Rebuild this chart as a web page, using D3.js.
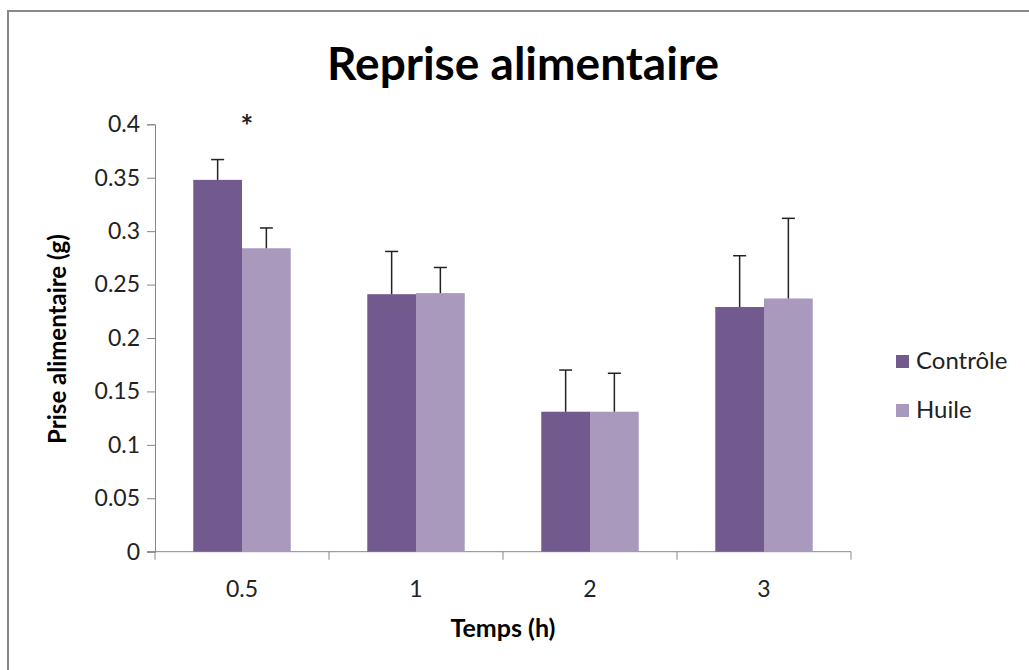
<!DOCTYPE html>
<html><head><meta charset="utf-8">
<script src="https://cdn.jsdelivr.net/npm/d3@7"></script>
<style>body{margin:0;background:#fff}svg{display:block}</style>
</head><body>
<script>
const categories = ["0.5", "1", "2", "3"];
const seriesNames = ["Contrôle", "Huile"];
const controle = [0.348, 0.241, 0.131, 0.229];
const huile = [0.284, 0.242, 0.131, 0.237];
const controleErr = [0.019, 0.040, 0.039, 0.048];
const huileErr = [0.019, 0.024, 0.036, 0.075];
const yTicks = [0, 0.05, 0.1, 0.15, 0.2, 0.25, 0.3, 0.35, 0.4];
const colors = ["#725A8F", "#A99ABD"];

(function () {
const W = 1029, H = 670;
const svg = d3.select("body").append("svg").attr("width", W).attr("height", H);
const font = "Lato, 'Open Sans', sans-serif";

svg.append("rect").attr("x", 8).attr("y", 11).attr("width", W + 10).attr("height", H + 10)
  .attr("fill", "#fff").attr("stroke", "#888").attr("stroke-width", 2);

const pl = 155, pr = 851, pt = 124.3, pb = 551.7;
const x = d3.scaleBand().domain(categories).range([pl, pr]).paddingInner(0.44).paddingOuter(0.22);
const xs = d3.scaleBand().domain(seriesNames).range([0, x.bandwidth()]);
const y = d3.scaleLinear().domain([0, 0.4]).range([pb, pt]);

// y axis
const yAxis = d3.axisLeft(y).tickValues(yTicks).tickSize(8).tickPadding(7).tickFormat(d => String(d));
const gy = svg.append("g").attr("transform", `translate(${pl},0)`).call(yAxis);
gy.select(".domain").attr("stroke", "#888").attr("stroke-width", 1);
gy.selectAll(".tick line").attr("stroke", "#888");
gy.selectAll(".tick text").attr("font-family", font).attr("font-size", 23).attr("fill", "#222");

// x axis
const xEdge = d3.scaleLinear().domain([0, categories.length]).range([pl, pr]);
const gx = svg.append("g");
gx.append("line").attr("x1", pl - 8).attr("x2", pr).attr("y1", pb).attr("y2", pb)
  .attr("stroke", "#888");
d3.range(categories.length + 1).forEach(i => {
  gx.append("line").attr("x1", xEdge(i)).attr("x2", xEdge(i)).attr("y1", pb).attr("y2", pb + 8)
    .attr("stroke", "#888");
});
gx.selectAll("text.xl").data(categories).join("text").attr("class", "xl")
  .attr("x", d => x(d) + x.bandwidth() / 2).attr("y", 597)
  .attr("text-anchor", "middle").attr("font-family", font).attr("font-size", 23).attr("fill", "#222")
  .text(d => d);

// bars
const series = [controle, huile];
const errs = [controleErr, huileErr];
series.forEach((vals, si) => {
  const g = svg.append("g");
  g.selectAll("rect").data(vals).join("rect")
    .attr("x", (d, i) => x(categories[i]) + xs(seriesNames[si]))
    .attr("width", xs.bandwidth())
    .attr("y", d => y(d)).attr("height", d => y(0) - y(d))
    .attr("fill", colors[si]);
  vals.forEach((v, i) => {
    const cx = x(categories[i]) + xs(seriesNames[si]) + xs.bandwidth() / 2;
    const yt = y(v + errs[si][i]);
    g.append("line").attr("x1", cx).attr("x2", cx).attr("y1", y(v)).attr("y2", yt)
      .attr("stroke", "#222").attr("stroke-width", 1.5);
    g.append("line").attr("x1", cx - 6.5).attr("x2", cx + 6.5).attr("y1", yt).attr("y2", yt)
      .attr("stroke", "#222").attr("stroke-width", 1.5);
  });
});

// asterisk
svg.append("text").attr("x", x("0.5") + x.bandwidth() / 2 + 5).attr("y", 137)
  .attr("text-anchor", "middle").attr("font-family", font).attr("font-size", 30).attr("font-weight", "bold")
  .attr("fill", "#222").text("*");

// title
svg.append("text").attr("x", 523).attr("y", 80).attr("text-anchor", "middle")
  .attr("font-family", font).attr("font-weight", "bold").attr("font-size", 46).attr("fill", "#000")
  .text("Reprise alimentaire");

// axis titles
svg.append("text").attr("x", (pl + pr) / 2).attr("y", 637).attr("text-anchor", "middle")
  .attr("font-family", font).attr("font-weight", "bold").attr("font-size", 25).attr("fill", "#000")
  .text("Temps (h)");
svg.append("text").attr("transform", "translate(66,339) rotate(-90)").attr("text-anchor", "middle")
  .attr("font-family", font).attr("font-weight", "bold").attr("font-size", 24).attr("fill", "#000")
  .text("Prise alimentaire (g)");

// legend
const leg = svg.append("g");
seriesNames.forEach((n, i) => {
  const ly = 361 + i * 49;
  leg.append("rect").attr("x", 896).attr("y", ly - 6).attr("width", 13).attr("height", 13).attr("fill", colors[i]);
  leg.append("text").attr("x", 916).attr("y", ly + 8).attr("font-family", font).attr("font-size", 24)
    .attr("fill", "#222").text(n);
});
})();
</script>
</body></html>
